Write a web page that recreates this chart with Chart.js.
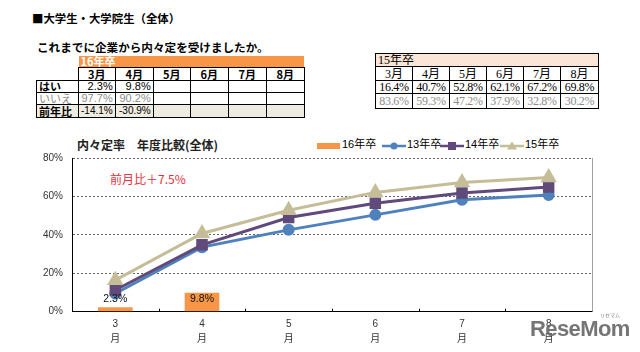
<!DOCTYPE html>
<html>
<head>
<meta charset="utf-8">
<script src="https://cdn.jsdelivr.net/npm/chart.js@4"></script>
<style>
  html, body { margin: 0; padding: 0; background: #fff; }
  body { width: 640px; height: 352px; position: relative; overflow: hidden; font-family: "Noto Sans CJK JP", sans-serif; }
  .abs { position: absolute; white-space: nowrap; line-height: 1; }
  table { position: absolute; border-collapse: collapse; table-layout: fixed; }
  td { padding: 0 2px; overflow: hidden; white-space: nowrap; line-height: 1; }
  #t16 td { font-size: 11px; }
  #t16 .num { font-family: "Liberation Sans Narrow", "Liberation Sans", sans-serif; text-align: right; }
  #t15 td { font-family: "Liberation Serif", "Noto Sans CJK JP", serif; font-size: 12px; text-align: center; border: 1px solid #000; background: #fff; }
  #legend span.it { position: absolute; top: 0; font-size: 11px; }
</style>
</head>
<body>

<div class="abs" style="left:32px;top:13px;font-size:11.4px;font-weight:bold;">■大学生・大学院生（全体）</div>
<div class="abs" style="left:37px;top:42px;font-size:11.6px;font-weight:bold;">これまでに企業から内々定を受けましたか。</div>

<table id="t16" style="left:36px;top:56px;"></table>
<table id="t15" style="left:375px;top:53px;"></table>

<div class="abs" style="left:77px;top:139px;font-size:12px;font-weight:bold;color:#222;">内々定率　年度比較(全体)</div>
<div id="legend" class="abs" style="left:0;top:139px;width:640px;height:14px;"></div>
<div class="abs" style="left:110px;top:173px;font-size:12px;color:#e2313c;">前月比＋7.5%</div>

<div style="position:absolute;left:0;top:130px;width:640px;height:222px;">
  <canvas id="chart" width="640" height="222"></canvas>
</div>

<div class="abs" style="left:530px;top:318px;font-family:'Liberation Sans',sans-serif;font-size:22px;font-weight:bold;color:rgba(105,105,105,0.92);letter-spacing:-0.6px;">ReseMom</div>
<div class="abs" style="left:600px;top:312px;font-size:5px;color:rgba(105,105,105,0.9);">リセマム</div>

<script>
// chart series (%)
const months = ['3', '4', '5', '6', '7', '8'];
const rate13 = [9.5, 33.6, 42.6, 50.4, 58.3, 60.7];
const rate14 = [11.3, 34.8, 49.0, 56.5, 61.8, 64.9];
const rate15 = [16.4, 40.7, 52.8, 62.1, 67.2, 69.8];
const rate16 = [2.3, 9.8, null, null, null, null];

// table text
const tableMonths = ['3月', '4月', '5月', '6月', '7月', '8月'];
const yes16 = ['2.3%', '9.8%', '', '', '', ''];
const no16 = ['97.7%', '90.2%', '', '', '', ''];
const yoy16 = ['-14.1%', '-30.9%', '', '', '', ''];
const yes15 = ['16.4%', '40.7%', '52.8%', '62.1%', '67.2%', '69.8%'];
const no15 = ['83.6%', '59.3%', '47.2%', '37.9%', '32.8%', '30.2%'];

const legendItems = [
  { label: '16年卒', color: '#f79646', kind: 'bar', x: 317 },
  { label: '13年卒', color: '#4f81bd', kind: 'circle', x: 382 },
  { label: '14年卒', color: '#604a7b', kind: 'rect', x: 440 },
  { label: '15年卒', color: '#c4bd97', kind: 'triangle', x: 500 }
];

// ---- 16年卒 table
(function () {
  const B = '1px solid #000';
  const widths = [42, 35, 38, 37, 38, 38, 38];
  let h = '<colgroup>' + widths.map(w => `<col style="width:${w}px">`).join('') + '</colgroup>';
  h += `<tr style="height:11px"><td></td><td colspan="6" style="background:#f79646;color:#fff;font-weight:bold;">16年卒</td></tr>`;
  h += `<tr style="height:13px"><td style="border-bottom:${B}"></td>` +
    tableMonths.map(m => `<td style="border:${B};text-align:center;font-weight:bold;">${m}</td>`).join('') + '</tr>';
  h += `<tr style="height:12px"><td style="border:${B};font-weight:bold;">はい</td>` +
    yes16.map(v => `<td class="num" style="border:${B};">${v}</td>`).join('') + '</tr>';
  h += `<tr style="height:12px;color:#8c8c8c"><td style="border:${B};">いいえ</td>` +
    no16.map(v => `<td class="num" style="border:${B};">${v}</td>`).join('') + '</tr>';
  h += `<tr style="height:13px;background:#eeece1"><td style="border:${B};font-weight:bold;">前年比</td>` +
    yoy16.map(v => `<td class="num" style="border:${B};font-size:10px;">${v}</td>`).join('') + '</tr>';
  document.getElementById('t16').innerHTML = h;
})();

// ---- 15年卒 table
(function () {
  const widths = [37, 37, 37, 37, 37, 38];
  let h = '<colgroup>' + widths.map(w => `<col style="width:${w}px">`).join('') + '</colgroup>';
  h += `<tr style="height:13px"><td colspan="6" style="background:#fbe5d6;text-align:left;">15年卒</td></tr>`;
  h += '<tr style="height:14px">' + tableMonths.map(m => `<td>${m}</td>`).join('') + '</tr>';
  h += '<tr style="height:13px">' + yes15.map(v => `<td style="letter-spacing:-0.3px">${v}</td>`).join('') + '</tr>';
  h += '<tr style="height:15px;color:#8c8c8c">' + no15.map(v => `<td style="letter-spacing:-0.3px">${v}</td>`).join('') + '</tr>';
  document.getElementById('t15').innerHTML = h;
})();

// ---- legend
(function () {
  const el = document.getElementById('legend');
  let h = '';
  legendItems.forEach(it => {
    let mark;
    if (it.kind === 'bar') {
      mark = `<rect x="0" y="4" width="23" height="6" fill="${it.color}"/>`;
    } else {
      let p = '';
      if (it.kind === 'circle') p = `<circle cx="12" cy="7" r="3.5" fill="${it.color}"/>`;
      if (it.kind === 'rect') p = `<rect x="8" y="3" width="8" height="8" fill="${it.color}"/>`;
      if (it.kind === 'triangle') p = `<polygon points="12,2.5 17,10.5 7,10.5" fill="${it.color}"/>`;
      mark = `<line x1="0" y1="7" x2="24" y2="7" stroke="${it.color}" stroke-width="2.5"/>` + p;
    }
    h += `<svg style="position:absolute;left:${it.x}px;top:0" width="24" height="14">${mark}</svg>`;
    h += `<span class="it" style="left:${it.x + 25}px;font-family:'Liberation Sans','Noto Sans CJK JP',sans-serif;">${it.label}</span>`;
  });
  el.innerHTML = h;
})();

// ---- chart
const frame = {
  id: 'frame',
  afterDatasetsDraw(chart) {
    const { ctx, chartArea, scales } = chart;
    ctx.save();
    // right border of the plot
    ctx.strokeStyle = '#a0a0a0';
    ctx.lineWidth = 1;
    ctx.beginPath();
    ctx.moveTo(chartArea.right + 0.5, chartArea.top);
    ctx.lineTo(chartArea.right + 0.5, chartArea.bottom);
    ctx.stroke();
    // short ticks between categories
    ctx.strokeStyle = '#000';
    for (let i = 1; i < months.length; i++) {
      const x = Math.round((scales.x.getPixelForValue(i - 1) + scales.x.getPixelForValue(i)) / 2) + 0.5;
      ctx.beginPath();
      ctx.moveTo(x, chartArea.bottom);
      ctx.lineTo(x, chartArea.bottom - 3);
      ctx.stroke();
    }
    // bar value labels
    const meta = chart.getDatasetMeta(3);
    ctx.fillStyle = '#111';
    ctx.font = '10.5px "Liberation Sans", sans-serif';
    ctx.textAlign = 'center';
    ctx.textBaseline = 'middle';
    meta.data.forEach((bar, i) => {
      if (rate16[i] == null) return;
      ctx.fillText(rate16[i].toFixed(1) + '%', bar.x, chartArea.bottom - 12.5);
    });
    ctx.restore();
  }
};

const tickFont = { family: '"Liberation Sans", "Noto Sans CJK JP", sans-serif', size: 10 };

new Chart(document.getElementById('chart'), {
  type: 'bar',
  data: {
    labels: months.map(m => [m, '月']),
    datasets: [
      { type: 'line', label: '15年卒', data: rate15, borderColor: '#c4bd97', backgroundColor: '#c4bd97',
        borderWidth: 3, pointStyle: 'triangle', pointRadius: 6.5, tension: 0 },
      { type: 'line', label: '14年卒', data: rate14, borderColor: '#604a7b', backgroundColor: '#604a7b',
        borderWidth: 3, pointStyle: 'rect', pointRadius: 6, tension: 0 },
      { type: 'line', label: '13年卒', data: rate13, borderColor: '#4f81bd', backgroundColor: '#4f81bd',
        borderWidth: 3, pointStyle: 'circle', pointRadius: 4.5, tension: 0 },
      { type: 'bar', label: '16年卒', data: rate16, backgroundColor: '#f79646',
        barPercentage: 0.4, categoryPercentage: 1 }
    ]
  },
  options: {
    responsive: false,
    animation: false,
    layout: { padding: { left: 0, right: 48, top: 28, bottom: 0 } },
    plugins: { legend: { display: false }, tooltip: { enabled: false } },
    scales: {
      x: {
        offset: true,
        grid: { display: false, drawTicks: false },
        border: { color: '#000', width: 1 },
        ticks: { font: { ...tickFont, lineHeight: 1.5 }, color: '#333', padding: 5, maxRotation: 0 },
        afterFit(s) { s.height = 40.3; }
      },
      y: {
        min: 0, max: 80,
        ticks: { stepSize: 20, callback: v => v + '%', font: tickFont, color: '#333', padding: 9 },
        grid: { color: '#666', drawTicks: false },
        border: { color: '#000', width: 1, dash: [2, 2] },
        afterFit(s) { s.width = 72; }
      }
    }
  },
  plugins: [frame]
});
</script>
</body>
</html>
